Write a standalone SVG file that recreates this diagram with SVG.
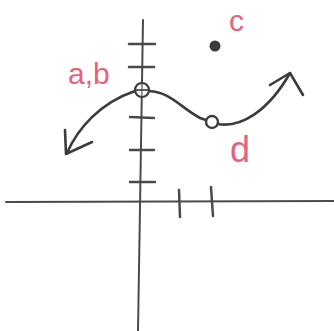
<svg xmlns="http://www.w3.org/2000/svg" width="334" height="331" viewBox="0 0 334 331">
<style>
.ax{stroke:#4a4a4a;stroke-width:2;fill:none;stroke-linecap:round}
.tk{stroke:#4a4a4a;stroke-width:2.5;fill:none;stroke-linecap:round}
.cv{stroke:#3c3c3c;stroke-width:2.6;fill:none;stroke-linecap:round;stroke-linejoin:round}
.lb{fill:#e8607c;font-family:"Liberation Sans",Arial,sans-serif}
</style>
<rect width="334" height="331" fill="#ffffff"/>
<g id="axes">
<path class="ax" d="M6,202 L334,201"/>
<path class="ax" d="M143,20 L138,331"/>
<path class="tk" d="M129,44 L155,44 M129,67 L154,67 M130,117 L154,118 M130,150 L154,150 M130,182 L155,182"/>
<path class="tk" d="M179,190 L180,217 M211,187 L213,216"/>
</g>
<g id="connectors">
<path class="cv" d="M67,153 C78,128 100,103 135,91"/>
<path class="cv" d="M149,91 C170,92 180,107 200,118 L206,120"/>
<path class="cv" d="M218,124 C240,128 268,112 290,73"/>
<path class="cv" d="M65,130 L66,154 L92,142"/>
<path class="cv" d="M270,85 L290,73 L303,95"/>
</g>
<g id="node-ab">
<circle cx="142" cy="90" r="7" fill="#ffffff" fill-opacity="0.4" stroke="#3c3c3c" stroke-width="2.2"/>
<path d="M135,90 L149,90" stroke="#4a4a4a" stroke-width="1.8"/>
<text class="lb" x="68" y="84" font-size="30">a,b</text>
</g>
<g id="node-c">
<circle cx="215" cy="46" r="5.5" fill="#3a3a3a"/>
<text class="lb" x="229" y="31" font-size="30">c</text>
</g>
<g id="node-d">
<circle cx="212" cy="122" r="6" fill="#ffffff" stroke="#3c3c3c" stroke-width="2.4"/>
<text class="lb" x="230" y="162" font-size="36">d</text>
</g>
</svg>
